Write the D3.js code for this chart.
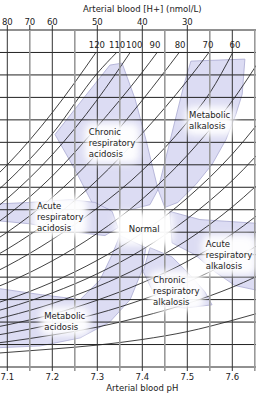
<!DOCTYPE html>
<html>
<head>
<meta charset="utf-8">
<script src="https://cdn.jsdelivr.net/npm/d3@7"></script>
<style>
body { margin: 0; background: #fff; }
text { font-family: "DejaVu Sans", sans-serif; font-size: 8.5px; fill: #222; }
</style>
</head>
<body>
<svg width="256" height="400"></svg>
<script>
// top axis: [H+] labels and the pH where they sit
const hTickPh = [7.1, 7.15, 7.2, 7.3, 7.4, 7.5];
const hTickLabels = ['80', '70', '60', '50', '40', '30'];
const phTicks = [7.1, 7.2, 7.3, 7.4, 7.5, 7.6];
const hco3Grid = d3.range(0, 61, 4);
const phGrid = d3.range(7.05, 7.66, 0.05);

// pCO2 isopleths, [pH, HCO3]
const pco2Labels = [120, 110, 100, 90, 80, 70, 60];
const pco2LabelPh = [7.299, 7.344, 7.382, 7.428, 7.484, 7.546, 7.606];
const iso120 = [[7.05, 32.1], [7.1, 36.0], [7.2, 45.3], [7.297, 56]];
const iso110 = [[7.05, 29.4], [7.1, 33.0], [7.2, 41.5], [7.3, 52.3], [7.343, 56]];
const iso100 = [[7.05, 26.7], [7.1, 30.0], [7.2, 37.8], [7.3, 47.6], [7.373, 56]];
const iso90 = [[7.05, 24.1], [7.1, 27.0], [7.2, 34.0], [7.3, 42.8], [7.4, 52.5], [7.433, 56]];
const iso80 = [[7.05, 21.4], [7.1, 24.0], [7.2, 30.2], [7.3, 38.0], [7.4, 47.5], [7.482, 56]];
const iso70 = [[7.05, 18.7], [7.1, 21.0], [7.2, 26.4], [7.3, 33.3], [7.4, 41.6], [7.5, 51.0], [7.548, 56]];
const iso60 = [[7.05, 16.0], [7.1, 18.0], [7.2, 22.7], [7.3, 28.3], [7.4, 35.0], [7.5, 43.6], [7.55, 48.8], [7.601, 56]];
const iso50 = [[7.05, 13.4], [7.1, 15.0], [7.2, 18.9], [7.3, 23.8], [7.4, 29.9], [7.5, 37.7], [7.6, 47.4], [7.7, 59.7]];
const iso40 = [[7.05, 10.7], [7.1, 12.0], [7.2, 15.1], [7.3, 19.0], [7.4, 23.9], [7.5, 30.1], [7.6, 37.9], [7.7, 47.8]];
const iso35 = [[7.05, 9.4], [7.1, 10.5], [7.2, 13.2], [7.3, 16.6], [7.4, 20.9], [7.5, 26.4], [7.6, 33.2], [7.7, 41.8]];
const iso30 = [[7.05, 8.0], [7.1, 9.0], [7.2, 11.3], [7.3, 14.3], [7.4, 18.0], [7.5, 22.6], [7.6, 28.5], [7.7, 35.8]];
const iso25 = [[7.05, 6.7], [7.1, 7.5], [7.2, 9.4], [7.3, 11.9], [7.4, 15.0], [7.5, 18.8], [7.6, 23.7], [7.7, 29.9]];
const iso20 = [[7.05, 5.3], [7.1, 6.0], [7.2, 7.6], [7.3, 9.5], [7.4, 12.0], [7.5, 15.1], [7.6, 19.0], [7.7, 23.9]];
const iso15 = [[7.05, 4.0], [7.1, 4.5], [7.2, 5.7], [7.3, 7.1], [7.4, 9.0], [7.5, 11.3], [7.6, 14.2], [7.7, 17.9]];
const iso10 = [[7.05, 2.3], [7.1, 2.6], [7.2, 3.2], [7.3, 3.9], [7.4, 4.9], [7.5, 6.3], [7.6, 8.3], [7.7, 10.6]];
const labelled = [iso120, iso110, iso100, iso90, iso80, iso70, iso60];
const isopleths = labelled.concat([iso50, iso40, iso35, iso30, iso25, iso20, iso15, iso10]);

// disorder regions, [pH, HCO3]
const chronicRespAcid = [[7.328, 53.75], [7.355, 54.1], [7.384, 47.7], [7.408, 40.5], [7.435, 31.6],
  [7.417, 28.9], [7.373, 28.0], [7.328, 28.0], [7.288, 29.3], [7.25, 35.2], [7.206, 41.4], [7.268, 47.7]];
const metAlk = [[7.508, 54.46], [7.628, 54.82], [7.622, 48.57], [7.608, 45.0], [7.586, 40.5], [7.555, 36.07],
  [7.519, 32.5], [7.479, 29.3], [7.45, 28.4], [7.435, 31.6], [7.457, 38.75], [7.479, 45.9], [7.493, 50.36]];
const acuteRespAcid = [[7.07, 29.0], [7.15, 29.3], [7.239, 29.8], [7.295, 29.3], [7.333, 27.7],
  [7.346, 24.8], [7.317, 23.4], [7.239, 24.1], [7.15, 25.5], [7.07, 26.1]];
const acuteRespAlk = [[7.461, 27.7], [7.528, 26.25], [7.595, 25.9], [7.67, 25.5], [7.67, 13.4],
  [7.606, 14.5], [7.561, 16.96], [7.517, 20.0], [7.466, 22.1]];
const chronicRespAlk = [[7.417, 21.25], [7.466, 19.6], [7.506, 16.4], [7.539, 13.4], [7.555, 11.07],
  [7.495, 10.5], [7.439, 10.9], [7.402, 16.96]];
const metAcid = [[7.35, 23.4], [7.333, 20.0], [7.306, 15.5], [7.262, 12.0], [7.173, 12.9], [7.07, 14.1],
  [7.07, 3.4], [7.173, 3.75], [7.262, 5.18], [7.328, 8.04], [7.373, 12.0], [7.4, 17.3], [7.408, 21.25]];
const regions = [chronicRespAcid, metAlk, acuteRespAcid, acuteRespAlk, chronicRespAlk, metAcid];

// region captions: [pH, HCO3] of first line baseline, lines
const captions = [
  [7.281, 41.3, ['Chronic', 'respiratory', 'acidosis']],
  [7.504, 44.3, ['Metabolic', 'alkalosis']],
  [7.166, 28.2, ['Acute', 'respiratory', 'acidosis']],
  [7.37, 24.1, ['Normal']],
  [7.541, 21.4, ['Acute', 'respiratory', 'alkalosis']],
  [7.424, 15.0, ['Chronic', 'respiratory', 'alkalosis']],
  [7.182, 8.6, ['Metabolic', 'acidosis']]
];

const svg = d3.select('svg');
const x = d3.scaleLinear().domain([7.1, 7.6]).range([7.3, 232.3]);
const y = d3.scaleLinear().domain([0, 60]).range([367, 30]);

const defs = svg.append('defs');
defs.append('clipPath').attr('id', 'plot')
  .append('rect').attr('x', 0).attr('y', y(60)).attr('width', 256).attr('height', y(0) - y(60));
defs.append('filter').attr('id', 'glow').attr('x', '-50%').attr('y', '-50%')
  .attr('width', '200%').attr('height', '200%')
  .append('feGaussianBlur').attr('stdDeviation', 3.5);

const area = d3.line().x(d => x(d[0])).y(d => y(d[1])).curve(d3.curveLinearClosed);
const plot = svg.append('g').attr('clip-path', 'url(#plot)');

plot.selectAll('path.region').data(regions).enter()
  .append('path').attr('class', 'region')
  .attr('d', area)
  .attr('fill', '#dcdcf3')
  .attr('stroke', '#a9a9d2')
  .attr('stroke-width', 0.8)
  .attr('stroke-linejoin', 'round');

// grid
svg.append('g').selectAll('line').data(hco3Grid).enter()
  .append('line')
  .attr('x1', 0).attr('x2', 256)
  .attr('y1', d => y(d)).attr('y2', d => y(d))
  .attr('stroke', '#222').attr('stroke-width', 1);

svg.append('g').selectAll('line').data(phGrid).enter()
  .append('line')
  .attr('x1', d => x(d)).attr('x2', d => x(d))
  .attr('y1', y(60)).attr('y2', y(0) + 4)
  .attr('stroke', (d, i) => i % 2 ? '#333' : '#999')
  .attr('stroke-width', (d, i) => i % 2 ? 1 : 1.6);

// top [H+] ticks
const topAx = svg.append('g');
topAx.selectAll('line').data(hTickPh).enter()
  .append('line')
  .attr('x1', d => x(d)).attr('x2', d => x(d))
  .attr('y1', y(60) - 5).attr('y2', y(60))
  .attr('stroke', '#333');
topAx.selectAll('text').data(hTickPh).enter()
  .append('text')
  .attr('x', d => x(d)).attr('y', 25)
  .attr('text-anchor', 'middle')
  .text((d, i) => hTickLabels[i]);
svg.append('text').attr('x', x(7.4)).attr('y', 12).attr('text-anchor', 'middle')
  .text('Arterial blood [H+] (nmol/L)');

// isopleths
const curve = d3.line().x(d => x(d[0])).y(d => y(d[1])).curve(d3.curveMonotoneX);
plot.selectAll('path.iso').data(isopleths).enter()
  .append('path').attr('class', 'iso')
  .attr('d', curve)
  .attr('fill', 'none')
  .attr('stroke', '#111')
  .attr('stroke-width', 0.8);

svg.append('g').selectAll('text').data(pco2Labels).enter()
  .append('text')
  .attr('x', (d, i) => x(pco2LabelPh[i]))
  .attr('y', y(56) - 4)
  .attr('text-anchor', 'middle')
  .text(d => d);

// caption glows and text
const cap = svg.append('g');
captions.forEach(([ph, v, lines]) => {
  const g = cap.append('g').attr('transform', `translate(${x(ph)},${y(v)})`);
  const glow = g.append('rect').attr('fill', '#fff').attr('filter', 'url(#glow)');
  const t = g.append('text');
  lines.forEach((s, i) => t.append('tspan').attr('x', 0).attr('dy', i ? 11 : 0).text(s));
  const bb = t.node().getBBox();
  const padX = lines.length === 1 ? 14 : 4;
  const padY = lines.length === 1 ? 12 : 4;
  glow.attr('x', bb.x - padX).attr('y', bb.y - padY)
    .attr('width', bb.width + 2 * padX).attr('height', bb.height + 2 * padY)
    .attr('rx', 8).attr('opacity', 0.95);
});

// bottom pH axis
svg.append('g').selectAll('text').data(phTicks).enter()
  .append('text')
  .attr('x', d => x(d)).attr('y', 380)
  .attr('text-anchor', 'middle')
  .text(d => d.toFixed(1));
svg.append('text').attr('x', x(7.4)).attr('y', 391).attr('text-anchor', 'middle')
  .text('Arterial blood pH');
</script>
</body>
</html>
